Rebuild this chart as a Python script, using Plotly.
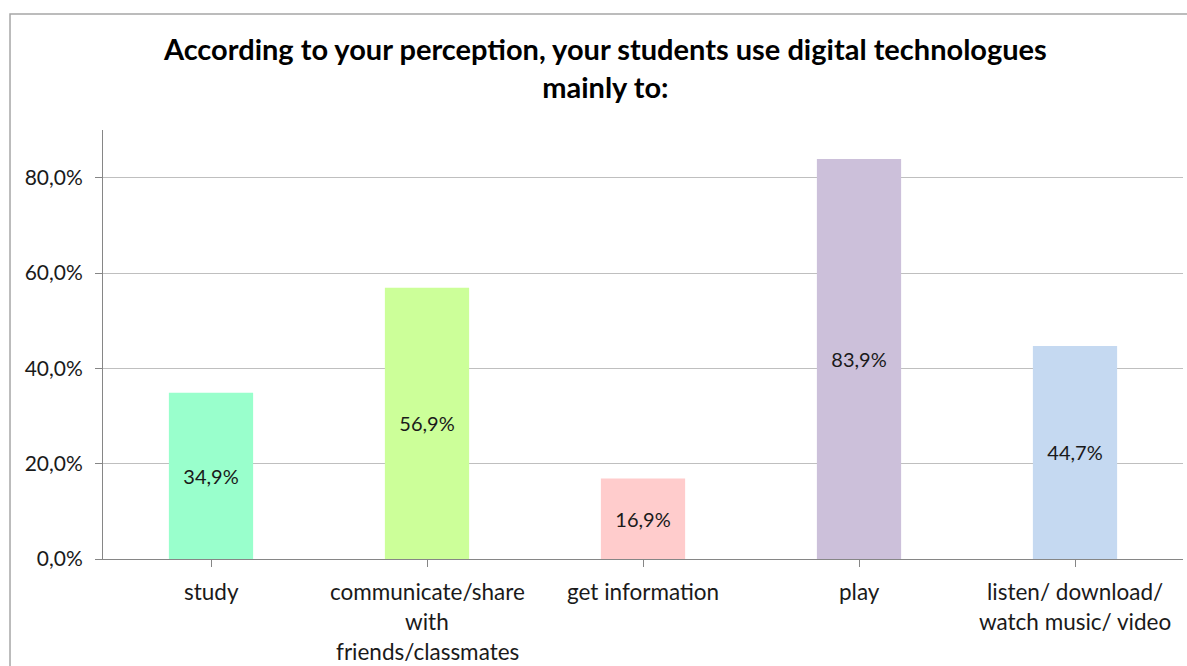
import plotly.graph_objects as go

categories = [
    "study",
    "communicate/share<br>with<br>friends/classmates",
    "get information",
    "play",
    "listen/ download/<br>watch music/ video",
]
values = [34.9, 56.9, 16.9, 83.9, 44.7]
bar_colors = ["#99FFCC", "#CCFF99", "#FFCCCC", "#CCC0DA", "#C5D9F1"]
y_ticks = [0, 20, 40, 60, 80]
y_tick_labels = ["0,0%", "20,0%", "40,0%", "60,0%", "80,0%"]

FONT = "Lato"
TEXT = "#1a1a1a"

fig = go.Figure()
fig.add_trace(go.Bar(
    x=list(range(len(categories))),
    y=values,
    marker=dict(color=bar_colors, line=dict(width=0)),
    texttemplate="%{y:.1f}%",
    textposition="inside",
    insidetextanchor="middle",
    textangle=0,
    textfont=dict(family=FONT, size=20, color=TEXT),
    width=0.39,
    hoverinfo="skip",
))

# category labels, one line at a time for wider line spacing
annotations = []
for i, cat in enumerate(categories):
    for j, line in enumerate(cat.split("<br>")):
        annotations.append(dict(
            x=i, xref="x", y=0, yref="paper",
            text=line, showarrow=False,
            xanchor="center", yanchor="middle",
            yshift=-32 - 30 * j,
            font=dict(family=FONT, size=22.5, color=TEXT),
        ))

fig.update_layout(
    width=1187, height=666,
    margin=dict(l=103, r=4, t=130, b=107),
    paper_bgcolor="white",
    plot_bgcolor="white",
    separators=",.",
    showlegend=False,
    title=dict(
        text="According to your perception, your students use digital technologues<br>mainly to:",
        x=0.51, xanchor="center", y=0.9095, yanchor="top",
        font=dict(family=FONT, size=29, color="#000000", weight="bold"),
    ),
    annotations=annotations,
    shapes=[dict(
        type="rect", xref="paper", yref="paper",
        x0=-0.0861, x1=1.02, y0=-0.3, y1=1.2704,
        line=dict(color="#a6a6a6", width=1.5),
        layer="below",
    )],
)

fig.update_xaxes(
    range=[-0.5, len(categories) - 0.5],
    tickvals=list(range(len(categories))),
    showticklabels=False,
    tickson="boundaries",
    ticks="outside", ticklen=7, tickcolor="#868686",
    showline=True, linecolor="#868686", linewidth=1,
    showgrid=False, zeroline=False,
)
fig.update_yaxes(
    range=[0, 90],
    tickvals=y_ticks,
    ticktext=y_tick_labels,
    ticks="outside", ticklen=7, tickcolor="#868686",
    ticklabelstandoff=8,
    tickfont=dict(family=FONT, size=21, color=TEXT),
    showline=True, linecolor="#868686", linewidth=1,
    showgrid=True, gridcolor="#bfbfbf", gridwidth=1,
    zeroline=False,
)

fig.write_html("out.html")
